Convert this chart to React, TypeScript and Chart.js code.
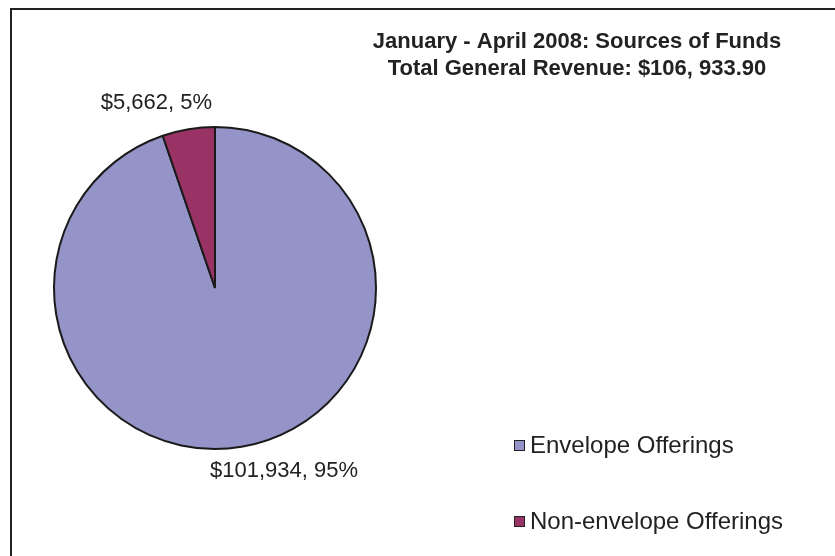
import React, { useEffect, useRef } from "react";
import { Chart, registerables } from "chart.js";

Chart.register(...registerables);

const categories = ["Envelope Offerings", "Non-envelope Offerings"];
const amounts = [101934, 5662];
const valueLabels = ["$101,934, 95%", "$5,662, 5%"];
const colors = ["#9494C8", "#993366"];
const titleLines = [
  "January - April 2008: Sources of Funds",
  "Total General Revenue: $106, 933.90",
];

const decor = {
  id: "decor",
  afterDraw(chart: any) {
    const ctx = chart.ctx as CanvasRenderingContext2D;
    ctx.save();
    // frame
    ctx.strokeStyle = "#222";
    ctx.lineWidth = 2;
    ctx.beginPath();
    ctx.moveTo(11, 556);
    ctx.lineTo(11, 9);
    ctx.lineTo(835, 9);
    ctx.stroke();
    // title
    ctx.fillStyle = "#222";
    ctx.textAlign = "center";
    ctx.textBaseline = "middle";
    ctx.font = "bold 22px 'Liberation Sans', Arial, sans-serif";
    ctx.fillText(titleLines[0], 577, 42);
    ctx.fillText(titleLines[1], 577, 69);
    // value labels
    ctx.font = "22px 'Liberation Sans', Arial, sans-serif";
    const meta = chart.getDatasetMeta(0);
    meta.data.forEach((arc: any, i: number) => {
      const { x, y, outerRadius } = arc.getProps(["x", "y", "outerRadius"], true);
      if (i === 0) {
        ctx.textAlign = "left";
        ctx.fillText(valueLabels[i], x - 5, y + outerRadius + 22);
      } else {
        ctx.textAlign = "right";
        ctx.fillText(valueLabels[i], x - 3, y - outerRadius - 24);
      }
    });
    // legend
    ctx.font = "24px 'Liberation Sans', Arial, sans-serif";
    ctx.textAlign = "left";
    const rows = [445, 521];
    categories.forEach((c, i) => {
      const ry = rows[i];
      ctx.fillStyle = colors[i];
      ctx.fillRect(514, ry - 5, 11, 11);
      ctx.strokeStyle = "#222";
      ctx.lineWidth = 1;
      ctx.strokeRect(514.5, ry - 4.5, 10, 10);
      ctx.fillStyle = "#222";
      ctx.fillText(c, 530, ry + 1);
    });
    ctx.restore();
  },
};

export default function App() {
  const ref = useRef<HTMLCanvasElement>(null);
  useEffect(() => {
    document.body.style.margin = "0";
    const chart = new Chart(ref.current!, {
      type: "pie",
      data: {
        labels: categories,
        datasets: [
          {
            data: amounts,
            backgroundColor: colors,
            borderColor: "#1a1a1a",
            borderWidth: 2,
          },
        ],
      },
      options: {
        animation: false,
        responsive: false,
        layout: { padding: { left: 53, right: 458, top: 126, bottom: 106 } },
        plugins: {
          legend: { display: false },
          title: { display: false },
          tooltip: { enabled: false },
        },
      },
      plugins: [decor],
    });
    return () => chart.destroy();
  }, []);
  return (
    <div style={{ width: 835, height: 556, background: "#fff" }}>
      <canvas ref={ref} width={835} height={556} style={{ display: "block" }} />
    </div>
  );
}
